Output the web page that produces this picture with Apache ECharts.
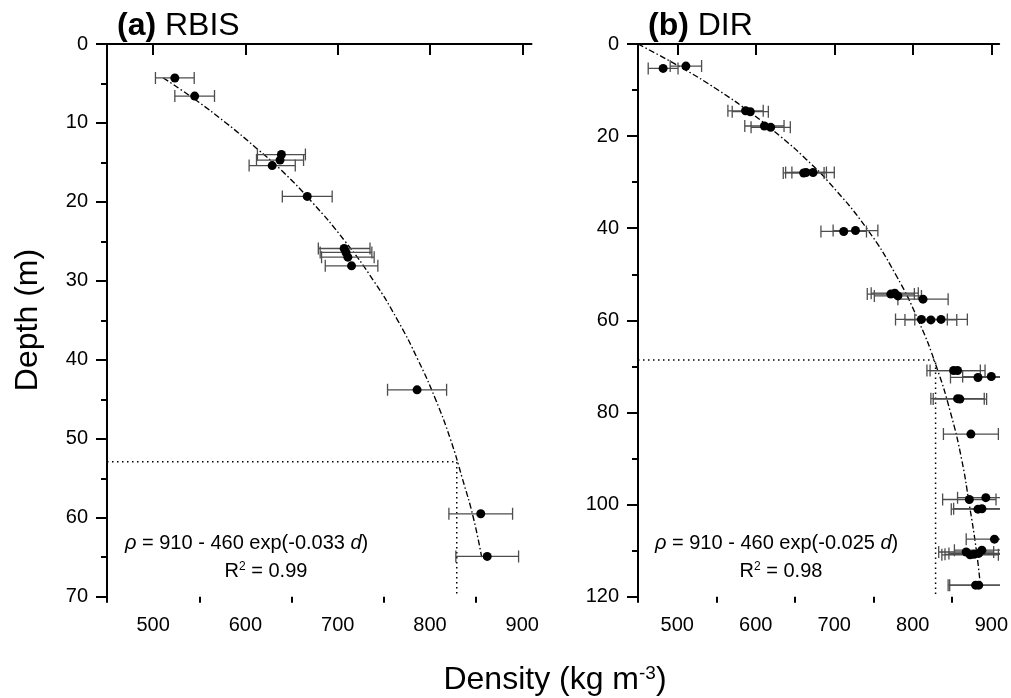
<!DOCTYPE html>
<html><head><meta charset="utf-8">
<script src="https://cdn.jsdelivr.net/npm/echarts@6/dist/echarts.min.js"></script>
<style>html,body{margin:0;padding:0;background:#fff}#c{width:1011px;height:698px}</style>
</head><body><div id="c"></div>
<script>
// ---- (a) RBIS measurements ----
const rbisDensity = [523.5, 545, 639, 637.5, 629, 667, 707, 709, 711, 715, 786, 855, 862];
const rbisDepth   = [4.3, 6.6, 14.0, 14.7, 15.4, 19.3, 25.9, 26.4, 27.0, 28.1, 43.8, 59.5, 64.9];
const rbisErr     = [21, 21.5, 26, 25.5, 25, 27, 28, 28, 28.5, 28.5, 32, 34.5, 34];
// fitted curve (a)
const rbisFitDepth   = [4.3, 7, 10, 13, 16, 20, 25, 30, 35, 40, 45, 50, 55, 60, 65];
const rbisFitDensity = [511, 545, 579, 610, 639, 672, 708, 739, 765, 787, 806, 822, 835, 847, 856];
// dotted reference lines (a)
const rbisRefDepth = [52.9, 52.9, 70];
const rbisRefDensity = [450, 829, 829];

// ---- (b) DIR measurements ----
const dirDensity = [482, 511, 587, 593, 611, 619, 661, 664, 673, 712, 727, 772, 777, 781, 813, 811, 823, 836,
                    852, 857, 883, 900, 857, 860, 874, 872, 893, 883, 888, 904, 868, 873, 878, 884, 888, 880, 884];
const dirDepth   = [5.3, 4.8, 14.5, 14.7, 17.8, 18.1, 28.0, 27.9, 27.9, 40.7, 40.5, 54.3, 54.1, 54.7, 55.4, 59.8, 59.9, 59.8,
                    70.9, 70.9, 72.4, 72.2, 77.0, 77.1, 84.7, 98.9, 98.5, 101.0, 100.9, 107.5, 110.3, 110.9, 110.8, 110.6, 109.9, 117.5, 117.5];
const dirErr     = [19, 20, 22.5, 23, 25, 25, 26, 26, 27, 29, 28.5, 30, 30, 30, 32, 33, 33, 33.5,
                    34, 35, 35, 36.5, 34, 34, 35, 34, 36, 34, 36, 36, 35, 36, 37, 38, 35, 35, 37];
// fitted curve (b)
const dirFitDepth   = [0, 5, 10, 15, 20, 25, 30, 40, 50, 60, 70, 80, 90, 100, 110, 117.5];
const dirFitDensity = [450, 504, 552, 594, 631, 664, 693, 741, 778, 807, 830, 848, 862, 872, 881, 886];
// dotted reference lines (b)
const dirRefDepth = [68.6, 68.6, 120];
const dirRefDensity = [450, 829, 829];

// ---- axis ticks ----
const xMajorTicks = [500, 600, 700, 800, 900];
const xMinorTicks = [450, 550, 650, 750, 850];

const FONT = '"Liberation Sans", Arial, sans-serif';
const zip = (xs, ys, es) => xs.map((x, i) => es ? [x, ys[i], es[i]] : [x, ys[i]]);

function errRender(params, api) {
  const x = api.value(0), y = api.value(1), e = api.value(2);
  const a = api.coord([x - e, y]), b = api.coord([x + e, y]);
  const st = { stroke: '#4d4d4d', lineWidth: 1.3 };
  const h = 6;
  return { type: 'group', children: [
    { type: 'line', shape: { x1: a[0], y1: a[1], x2: b[0], y2: b[1] }, style: st },
    { type: 'line', shape: { x1: a[0], y1: a[1] - h, x2: a[0], y2: a[1] + h }, style: st },
    { type: 'line', shape: { x1: b[0], y1: b[1] - h, x2: b[0], y2: b[1] + h }, style: st }
  ]};
}

const axisLineStyle = { show: true, lineStyle: { color: '#000', width: 2 } };
function mainX(grid) {
  return { gridIndex: grid, type: 'value', min: 450, max: 910, position: 'bottom', offset: 0,
    axisLine: axisLineStyle,
    axisTick: { show: true, length: 11, lineStyle: { color: '#000', width: 2 }, customValues: xMajorTicks },
    axisLabel: { show: true, customValues: xMajorTicks, fontSize: 20, color: '#000', fontFamily: FONT, margin: 19 },
    splitLine: { show: false } };
}
function minorX(grid) {
  return { gridIndex: grid, type: 'value', min: 450, max: 910, position: 'bottom', offset: 0,
    axisLine: { show: false },
    axisTick: { show: true, length: 6, lineStyle: { color: '#000', width: 2 }, customValues: xMinorTicks },
    axisLabel: { show: false },
    splitLine: { show: false } };
}
function mainY(grid, max, interval) {
  return { gridIndex: grid, type: 'value', min: 0, max: max, interval: interval, inverse: true,
    axisLine: axisLineStyle,
    axisTick: { show: true, length: 11, lineStyle: { color: '#000', width: 2 } },
    minorTick: { show: true, splitNumber: 2, length: 6, lineStyle: { color: '#000', width: 2 } },
    axisLabel: { fontSize: 20, color: '#000', fontFamily: FONT, margin: 19 },
    splitLine: { show: false }, minorSplitLine: { show: false } };
}

const fitStyle = { color: '#000', width: 1.35, type: [6, 2.5, 1.5, 2.5] };
const refStyle = { color: '#000', width: 1.5, type: [1.5, 3.5] };

const option = {
  animation: false,
  backgroundColor: '#fff',
  grid: [
    { left: 107, top: 44, width: 424.5, height: 552.7 },
    { left: 638, top: 44, width: 363.5, height: 552.7 }
  ],
  xAxis: [mainX(0), mainX(1), minorX(0), minorX(1)],
  yAxis: [mainY(0, 70, 10), mainY(1, 120, 20)],
  series: [
    { type: 'line', xAxisIndex: 0, yAxisIndex: 0, data: zip(rbisRefDensity, rbisRefDepth), showSymbol: false, lineStyle: refStyle, z: 1 },
    { type: 'line', xAxisIndex: 1, yAxisIndex: 1, data: zip(dirRefDensity, dirRefDepth), showSymbol: false, lineStyle: refStyle, z: 1 },
    { type: 'line', xAxisIndex: 0, yAxisIndex: 0, data: zip(rbisFitDensity, rbisFitDepth), showSymbol: false, smooth: true, lineStyle: fitStyle, z: 2 },
    { type: 'line', xAxisIndex: 1, yAxisIndex: 1, data: zip(dirFitDensity, dirFitDepth), showSymbol: false, smooth: true, lineStyle: fitStyle, z: 2 },
    { type: 'custom', xAxisIndex: 0, yAxisIndex: 0, data: zip(rbisDensity, rbisDepth, rbisErr), encode: { x: 0, y: 1 }, renderItem: errRender, clip: true, z: 3 },
    { type: 'custom', xAxisIndex: 1, yAxisIndex: 1, data: zip(dirDensity, dirDepth, dirErr), encode: { x: 0, y: 1 }, renderItem: errRender, clip: true, z: 3 },
    { type: 'scatter', xAxisIndex: 0, yAxisIndex: 0, data: zip(rbisDensity, rbisDepth), symbol: 'circle', symbolSize: 9, itemStyle: { color: '#000', opacity: 1 }, z: 4 },
    { type: 'scatter', xAxisIndex: 1, yAxisIndex: 1, data: zip(dirDensity, dirDepth), symbol: 'circle', symbolSize: 9, itemStyle: { color: '#000', opacity: 1 }, z: 4 }
  ],
  graphic: [
    { type: 'text', x: 117, y: 26, style: { text: '{b|(a)} RBIS', fill: '#000', font: '32px ' + FONT, align: 'left', verticalAlign: 'middle',
      rich: { b: { fontWeight: 'bold', fontSize: 32, fontFamily: FONT } } } },
    { type: 'text', x: 648, y: 26, style: { text: '{b|(b)} DIR', fill: '#000', font: '32px ' + FONT, align: 'left', verticalAlign: 'middle',
      rich: { b: { fontWeight: 'bold', fontSize: 32, fontFamily: FONT } } } },
    { type: 'text', x: 28, y: 320, rotation: Math.PI / 2, style: { text: 'Depth (m)', fill: '#000', font: '32px ' + FONT, align: 'center', verticalAlign: 'middle' } },
    { type: 'text', x: 555, y: 680, style: { text: 'Density (kg m{s|-3})', fill: '#000', font: '32px ' + FONT, align: 'center', verticalAlign: 'middle',
      rich: { s: { fontSize: 19, fontFamily: FONT, verticalAlign: 'top' } } } },
    { type: 'text', x: 125, y: 543, style: { text: '{i|ρ} = 910 - 460 exp(-0.033 {i|d})', fill: '#000', font: '20px ' + FONT, align: 'left', verticalAlign: 'middle',
      rich: { i: { fontStyle: 'italic', fontSize: 20, fontFamily: FONT } } } },
    { type: 'text', x: 266, y: 571, style: { text: 'R{s|2} = 0.99', fill: '#000', font: '20px ' + FONT, align: 'center', verticalAlign: 'middle',
      rich: { s: { fontSize: 12, fontFamily: FONT, verticalAlign: 'top' } } } },
    { type: 'text', x: 655, y: 543, style: { text: '{i|ρ} = 910 - 460 exp(-0.025 {i|d})', fill: '#000', font: '20px ' + FONT, align: 'left', verticalAlign: 'middle',
      rich: { i: { fontStyle: 'italic', fontSize: 20, fontFamily: FONT } } } },
    { type: 'text', x: 781, y: 571, style: { text: 'R{s|2} = 0.98', fill: '#000', font: '20px ' + FONT, align: 'center', verticalAlign: 'middle',
      rich: { s: { fontSize: 12, fontFamily: FONT, verticalAlign: 'top' } } } }
  ]
};
const chart = echarts.init(document.getElementById('c'), null, { renderer: 'canvas' });
chart.setOption(option);
</script></body></html>
